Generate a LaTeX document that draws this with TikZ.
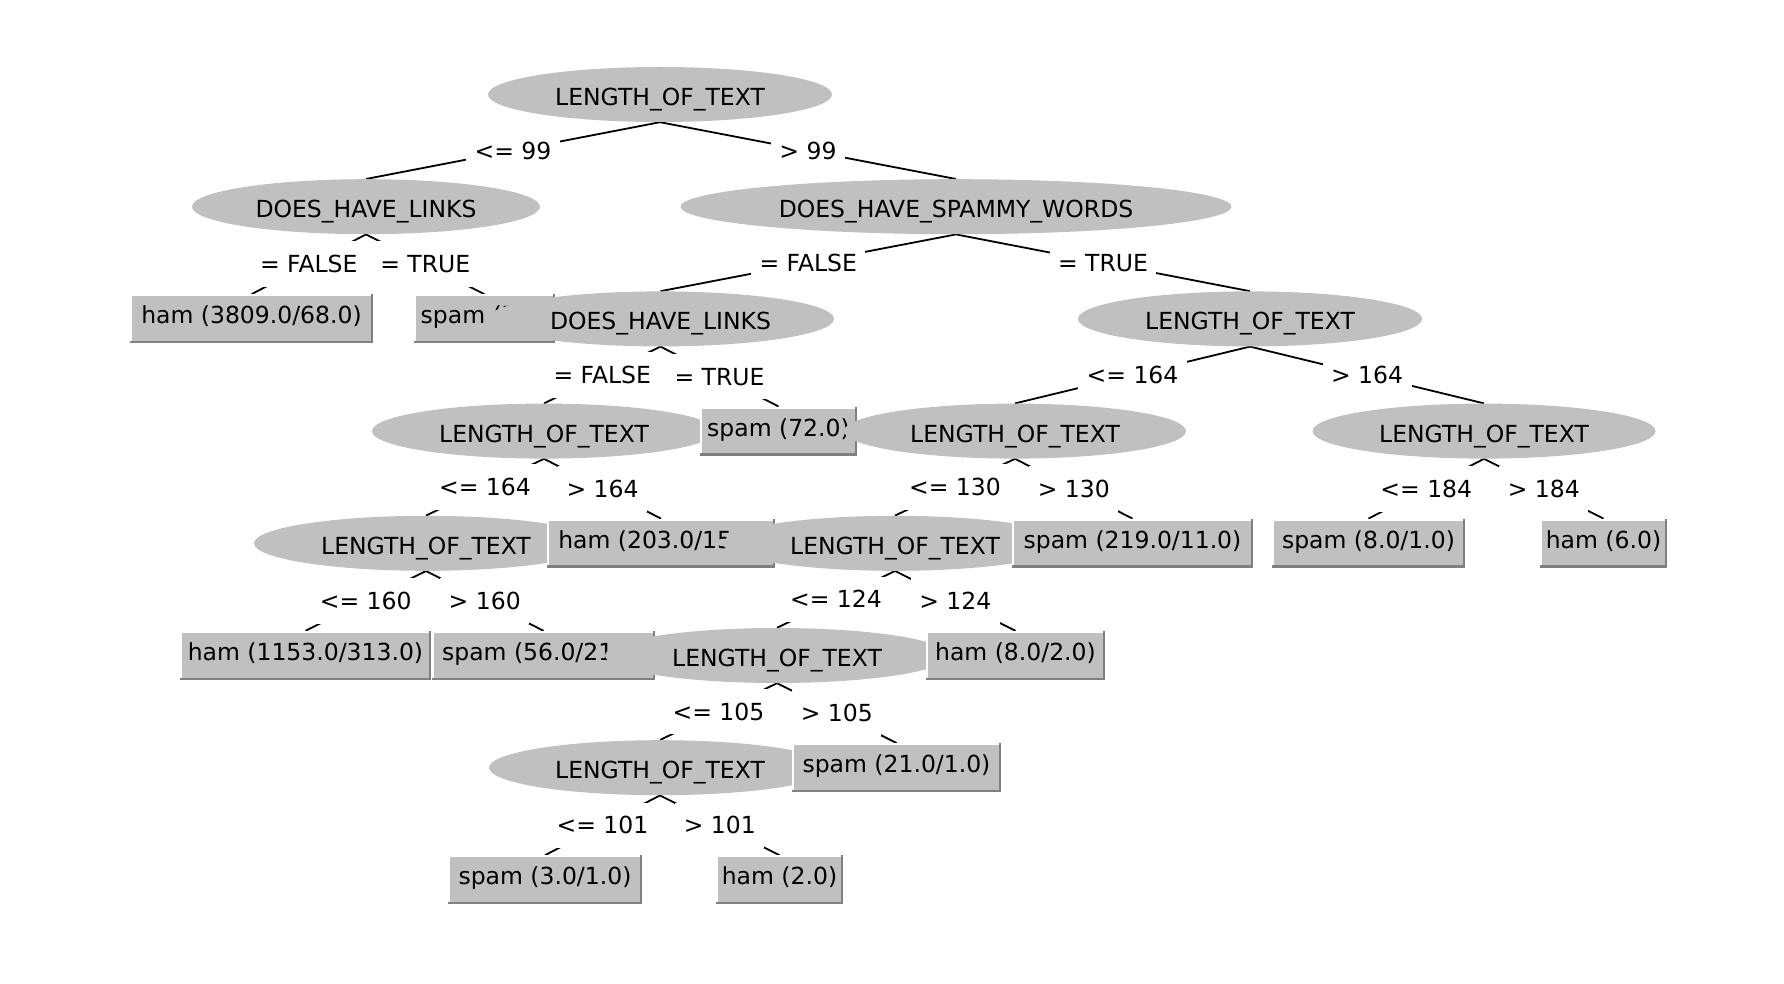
\documentclass[tikz,border=0pt]{standalone}
\usepackage{fontspec}
\setmainfont{DejaVu Sans}
\usetikzlibrary{shapes.geometric,backgrounds}
\definecolor{nodegray}{RGB}{192,192,192}
\definecolor{shadowgray}{RGB}{128,128,128}
\begin{document}
\begin{tikzpicture}[x=1pt,y=-1pt,
  font=\fontsize{23.5}{28}\selectfont,
  ell/.style={ellipse, fill=nodegray, inner sep=0pt, minimum height=55pt, text height=22pt, text depth=0pt},
  leaf/.style={rectangle, fill=nodegray, inner sep=0pt, minimum height=49pt, text height=10pt, text depth=0pt,
    path picture={
      \fill[white] (path picture bounding box.north west) rectangle ([xshift=2pt]path picture bounding box.south west);
      \fill[white] (path picture bounding box.north west) rectangle ([yshift=-2pt]path picture bounding box.north east);
      \fill[shadowgray] ([xshift=-2.5pt]path picture bounding box.north east) rectangle (path picture bounding box.south east);
      \fill[shadowgray] ([yshift=2.5pt]path picture bounding box.south west) rectangle (path picture bounding box.south east);
    }},
  lbl/.style={fill=white, inner xsep=8.5pt, inner ysep=8.8pt, text height=22.5pt, text depth=5.5pt},
  edge/.style={line width=1.8pt, black}
]
\useasboundingbox (0,0) rectangle (1784,984);
% level 0
\node[ell, minimum width=344pt] (root) at (660,94.5) {LENGTH\_OF\_TEXT};
% level 1
\node[ell, minimum width=348pt] (dhlA) at (366,206.7) {DOES\_HAVE\_LINKS};
% left subtree leaves
\node[leaf, minimum width=243pt] (hamA) at (251.5,318.9) {ham (3809.0/68.0)};
\node[leaf, minimum width=141pt] (spamA) at (484.5,318.9) {spam (7.0)};
\node[ell, minimum width=551pt] (dhsw) at (956,206.7) {DOES\_HAVE\_SPAMMY\_WORDS};
\node[ell, minimum width=347pt] (dhlB) at (660.5,318.9) {DOES\_HAVE\_LINKS};
\node[ell, minimum width=344pt] (lotA) at (544,431.1) {LENGTH\_OF\_TEXT};
\node[ell, minimum width=344pt] (lotD) at (426,543.3) {LENGTH\_OF\_TEXT};
\node[leaf, minimum width=251pt] (hamD) at (305.5,655.5) {ham (1153.0/313.0)};
\node[leaf, minimum width=223pt] (spamE) at (543.5,655.5) {spam (56.0/21.0)};
\node[leaf, minimum width=228pt] (hamB) at (661,543.3) {ham (203.0/15.0)};
\node[leaf, minimum width=157pt] (spamB) at (778.5,431.1) {spam (72.0)};
\node[ell, minimum width=344pt] (lotR) at (1250,318.9) {LENGTH\_OF\_TEXT};
\node[ell, minimum width=342pt] (lotB) at (1015,431.1) {LENGTH\_OF\_TEXT};
\node[ell, minimum width=344pt] (lotE) at (895,543.3) {LENGTH\_OF\_TEXT};
\node[ell, minimum width=344pt] (lotF) at (777,655.5) {LENGTH\_OF\_TEXT};
\node[ell, minimum width=342pt] (lotG) at (660,767.7) {LENGTH\_OF\_TEXT};
\node[leaf, minimum width=194pt] (spamG) at (545,879.9) {spam (3.0/1.0)};
\node[leaf, minimum width=127pt] (hamF) at (779.5,879.9) {ham (2.0)};
\node[leaf, minimum width=209pt] (spamF) at (896.5,767.7) {spam (21.0/1.0)};
\node[leaf, minimum width=179pt] (hamE) at (1015.5,655.5) {ham (8.0/2.0)};
\node[leaf, minimum width=241pt] (spamC) at (1132.5,543.3) {spam (219.0/11.0)};
\node[ell, minimum width=343pt] (lotC) at (1484,431.1) {LENGTH\_OF\_TEXT};
\node[leaf, minimum width=193pt] (spamD) at (1368.5,543.3) {spam (8.0/1.0)};
\node[leaf, minimum width=127pt] (hamC) at (1603.5,543.3) {ham (6.0)};
\begin{pgfonlayer}{background}
\draw[edge] (root.south) -- node[lbl] {<= 99} (dhlA.north);
\draw[edge] (root.south) -- node[lbl] {> 99} (dhsw.north);
\draw[edge] (dhlA.south) -- node[lbl] {= FALSE} (hamA.north);
\draw[edge] (dhlA.south) -- node[lbl] {= TRUE} (spamA.north);
\draw[edge] (dhsw.south) -- node[lbl] {= FALSE} (dhlB.north);
\draw[edge] (dhsw.south) -- node[lbl] {= TRUE} (lotR.north);
\draw[edge] (dhlB.south) -- node[lbl] {= FALSE} (lotA.north);
\draw[edge] (dhlB.south) -- node[lbl] {= TRUE} (spamB.north);
\draw[edge] (lotA.south) -- node[lbl] {<= 164} (lotD.north);
\draw[edge] (lotA.south) -- node[lbl] {> 164} (hamB.north);
\draw[edge] (lotD.south) -- node[lbl] {<= 160} (hamD.north);
\draw[edge] (lotD.south) -- node[lbl] {> 160} (spamE.north);
\draw[edge] (lotR.south) -- node[lbl] {<= 164} (lotB.north);
\draw[edge] (lotR.south) -- node[lbl] {> 164} (lotC.north);
\draw[edge] (lotB.south) -- node[lbl] {<= 130} (lotE.north);
\draw[edge] (lotB.south) -- node[lbl] {> 130} (spamC.north);
\draw[edge] (lotE.south) -- node[lbl] {<= 124} (lotF.north);
\draw[edge] (lotE.south) -- node[lbl] {> 124} (hamE.north);
\draw[edge] (lotF.south) -- node[lbl] {<= 105} (lotG.north);
\draw[edge] (lotF.south) -- node[lbl] {> 105} (spamF.north);
\draw[edge] (lotG.south) -- node[lbl] {<= 101} (spamG.north);
\draw[edge] (lotG.south) -- node[lbl] {> 101} (hamF.north);
\draw[edge] (lotC.south) -- node[lbl] {<= 184} (spamD.north);
\draw[edge] (lotC.south) -- node[lbl] {> 184} (hamC.north);
\end{pgfonlayer}
\end{tikzpicture}
\end{document}
